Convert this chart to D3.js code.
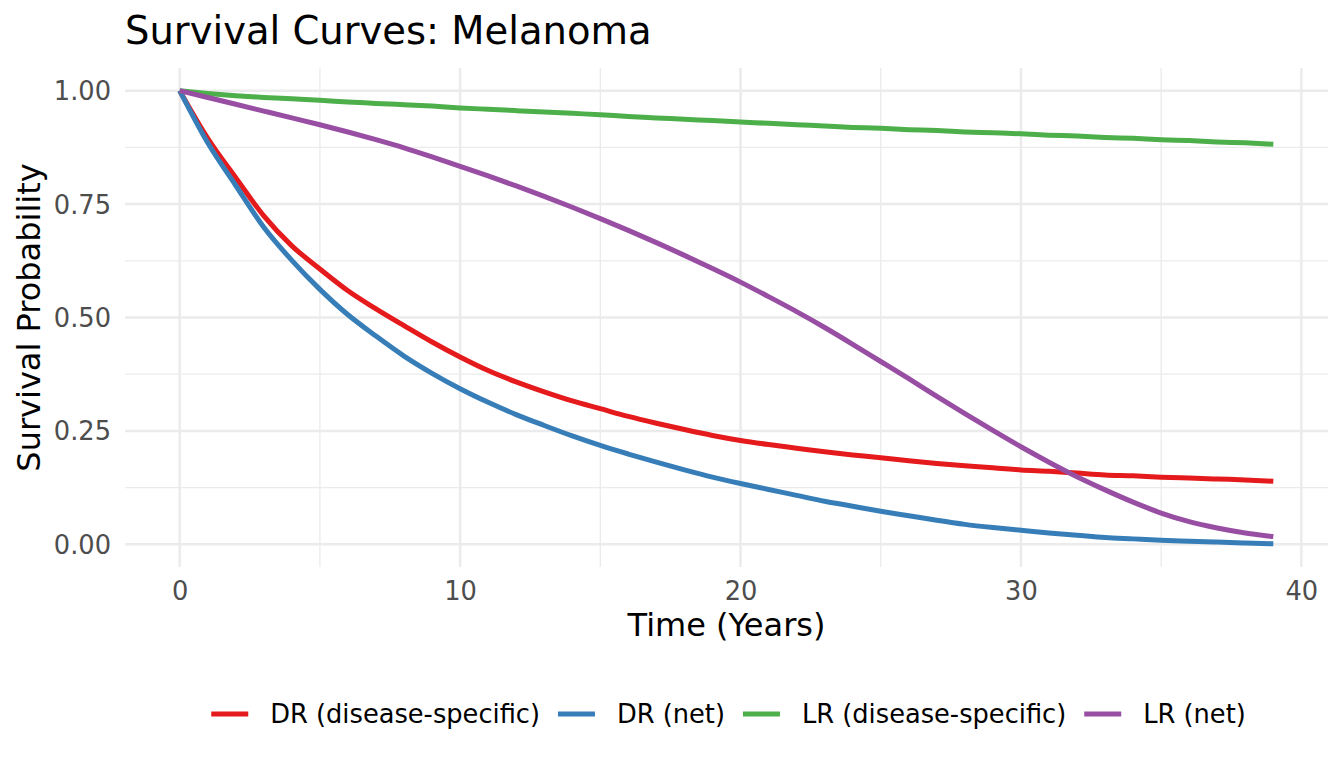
<!DOCTYPE html>
<html><head><meta charset="utf-8">
<script src="https://cdn.jsdelivr.net/npm/d3@7"></script>
<style>body{margin:0;background:#fff}svg{display:block;font-family:"DejaVu Sans",sans-serif}</style>
</head><body><svg id="c" width="1344" height="768"></svg>
<script>
const years = d3.range(0, 40);
const seriesNames = ["DR (disease-specific)", "DR (net)", "LR (disease-specific)", "LR (net)"];
const colors = ["#E41A1C", "#377EB8", "#4DAF4A", "#984EA3"];
const drDisease = [1.000,0.895,0.808,0.724,0.658,0.607,0.559,0.519,0.482,0.446,0.413,0.383,0.358,0.336,0.316,0.299,0.282,0.267,0.253,0.240,0.229,0.220,0.212,0.204,0.197,0.191,0.184,0.178,0.173,0.169,0.164,0.161,0.157,0.153,0.151,0.148,0.146,0.144,0.142,0.139];
const drNet = [1.000,0.885,0.791,0.699,0.626,0.562,0.506,0.459,0.415,0.377,0.343,0.313,0.286,0.262,0.239,0.218,0.199,0.181,0.164,0.148,0.134,0.121,0.108,0.095,0.084,0.073,0.063,0.053,0.044,0.037,0.031,0.025,0.020,0.015,0.012,0.009,0.007,0.005,0.003,0.001];
const lrDisease = [1.000,0.994,0.989,0.985,0.982,0.979,0.975,0.972,0.969,0.966,0.962,0.959,0.956,0.953,0.950,0.947,0.943,0.940,0.937,0.934,0.931,0.928,0.925,0.922,0.919,0.917,0.914,0.912,0.909,0.907,0.905,0.902,0.900,0.897,0.895,0.892,0.890,0.887,0.885,0.882];
const lrNet = [1.000,0.985,0.970,0.955,0.940,0.925,0.909,0.892,0.874,0.854,0.833,0.812,0.790,0.767,0.743,0.718,0.692,0.665,0.637,0.608,0.578,0.546,0.513,0.478,0.441,0.403,0.365,0.326,0.288,0.251,0.215,0.181,0.149,0.120,0.093,0.069,0.050,0.036,0.025,0.017];
const xTicks = [0, 10, 20, 30, 40];
const xMinor = [5, 15, 25, 35];
const yTicks = [0, 0.25, 0.5, 0.75, 1];
const yMinor = [0.125, 0.375, 0.625, 0.875];
const title = "Survival Curves: Melanoma";
const xLabel = "Time (Years)";
const yLabel = "Survival Probability";

const allSeries = [drDisease, drNet, lrDisease, lrNet];
const svg = d3.select("#c");
const L = 125, R = 1328, T = 68, B = 567;
const x = d3.scaleLinear().domain([-1.95, 40.95]).range([L, R]);
const y = d3.scaleLinear().domain([-0.05, 1.05]).range([B, T]);
const grid = "#EBEBEB";
const tickFont = 25.7, axisFont = 32, titleFont = 38.5;

const g = svg.append("g");
g.selectAll(".xm").data(xMinor).join("line").attr("x1", d => x(d)).attr("x2", d => x(d)).attr("y1", T).attr("y2", B).attr("stroke", grid).attr("stroke-width", 1.3);
g.selectAll(".ym").data(yMinor).join("line").attr("y1", d => y(d)).attr("y2", d => y(d)).attr("x1", L).attr("x2", R).attr("stroke", grid).attr("stroke-width", 1.3);
g.selectAll(".xM").data(xTicks).join("line").attr("x1", d => x(d)).attr("x2", d => x(d)).attr("y1", T).attr("y2", B).attr("stroke", grid).attr("stroke-width", 2.5);
g.selectAll(".yM").data(yTicks).join("line").attr("y1", d => y(d)).attr("y2", d => y(d)).attr("x1", L).attr("x2", R).attr("stroke", grid).attr("stroke-width", 2.5);

const xAxis = svg.append("g").attr("transform", `translate(0,${B})`)
  .call(d3.axisBottom(x).tickValues(xTicks).tickSize(0).tickPadding(33).tickFormat(d3.format("d")));
xAxis.select(".domain").remove();
xAxis.selectAll("text").attr("fill", "#4D4D4D").attr("font-size", tickFont).attr("font-family", "DejaVu Sans").attr("dy", 0);
const yAxis = svg.append("g").attr("transform", `translate(${L},0)`)
  .call(d3.axisLeft(y).tickValues(yTicks).tickSize(0).tickPadding(14).tickFormat(d3.format(".2f")));
yAxis.select(".domain").remove();
yAxis.selectAll("text").attr("fill", "#4D4D4D").attr("font-size", tickFont).attr("font-family", "DejaVu Sans").attr("dy", "0.35em");

const line = d3.line().x((d, i) => x(years[i])).y(d => y(d)).curve(d3.curveMonotoneX);
svg.append("g").selectAll("path").data(allSeries).join("path")
  .attr("d", d => line(d)).attr("fill", "none")
  .attr("stroke", (d, i) => colors[i]).attr("stroke-width", 5)
  .attr("stroke-linejoin", "round");

svg.append("text").attr("x", 125).attr("y", 44).attr("font-size", titleFont).attr("fill", "#000").text(title);
svg.append("text").attr("x", (L + R) / 2).attr("y", 636).attr("text-anchor", "middle").attr("font-size", axisFont).attr("fill", "#000").text(xLabel);
svg.append("text").attr("transform", `translate(40,${(T + B) / 2}) rotate(-90)`).attr("text-anchor", "middle").attr("font-size", axisFont).attr("fill", "#000").text(yLabel);

const leg = svg.append("g");
const keyW = 37, keyGap = 22, itemGap = 18, ly = 714;
const items = leg.selectAll("g").data(seriesNames).join("g");
items.append("line").attr("x1", 0).attr("x2", keyW).attr("y1", 0).attr("y2", 0)
  .attr("stroke", (d, i) => colors[i]).attr("stroke-width", 5);
items.append("text").attr("x", keyW + keyGap).attr("y", 0).attr("dy", "0.35em")
  .attr("font-size", tickFont).attr("fill", "#000").text(d => d);
let widths = [];
items.each(function () { widths.push(keyW + keyGap + d3.select(this).select("text").node().getComputedTextLength()); });
const total = d3.sum(widths) + itemGap * (widths.length - 1);
let cx = (L + R) / 2 - total / 2 + 2;
items.each(function (d, i) { d3.select(this).attr("transform", `translate(${cx},${ly})`); cx += widths[i] + itemGap; });
</script></body></html>
